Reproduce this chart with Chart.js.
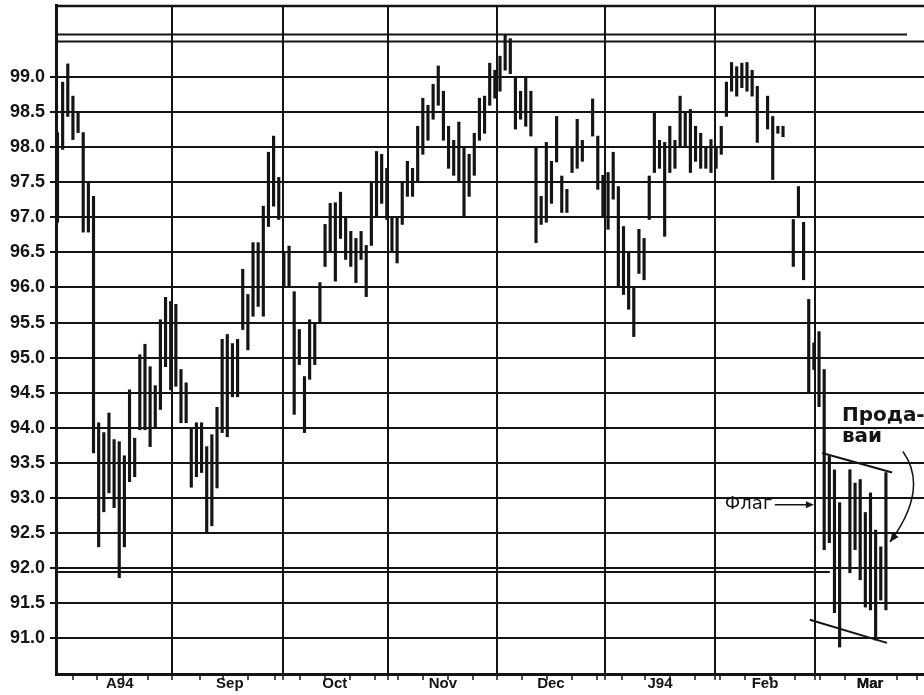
<!DOCTYPE html>
<html>
<head>
<meta charset="utf-8">
<script src="https://cdn.jsdelivr.net/npm/chart.js@4.4.1/dist/chart.umd.min.js"></script>
<style>
  html, body { margin: 0; padding: 0; background: #fff; }
</style>
</head>
<body>
<canvas id="chart" width="924" height="695"></canvas>
<script>
// daily highs / lows, one entry per trading day (null = no bar)
const highs = [
  98.21, 98.93, 99.19, 98.73, 98.50, 98.21, 97.50, 97.30, 94.07, 93.93, 94.21, 93.83, 93.80, 93.60, 94.54, 93.85, 95.04, 95.19, 94.87, 94.60, 95.54, 95.86,
  95.80, 95.76, 94.83, 94.64, 94.00, 94.07, 94.07, 93.73, 93.90, 94.29, 95.26, 95.33, 95.20, 95.26, 96.26, 95.90, 96.64, 96.64, 97.16, 97.93, 98.16, 97.57,
  96.50, 96.59, 95.94, 95.40, 94.73, 95.54, 95.50, 96.07, 96.90, 97.20, 97.21, 97.36, 97.00, 96.80, 96.70, 96.80, 96.60, 97.50, 97.94, 97.90, 97.70,
  97.00, 97.00, 97.50, 97.80, 97.70, 98.30, 98.70, 98.60, 98.90, 99.16, 98.80, 98.30, 98.10, 98.36, 98.00, 97.90, 98.20, 98.70, 98.73, 99.20, 99.10, 99.30,
  99.60, 99.55, 99.01, 98.80, 99.00, 98.80, 98.00, 97.30, 98.07, 97.80, 98.44, 97.59, 97.40, 98.00, 98.40, 98.10, null, 98.69, 98.16, 97.60,
  97.64, 97.93, 97.44, 96.87, 96.50, 96.01, 96.83, 96.70, 97.59, 98.50, 98.10, 98.07, 98.30, 98.10, 98.73, 98.50, 98.54, 98.30, 98.20, 98.00, 98.11, 98.00,
  98.30, 98.93, 99.21, 99.15, 99.20, 99.21, 99.10, 98.87, null, 98.73, 98.44, 98.30, 98.30, null, 96.97, 97.44, 96.93, 95.83, 95.21,
  95.37, 94.83, 93.59, 93.40, 92.93, null, 93.40, 93.21, 93.26, 92.79, 93.07, 92.54, 92.30, 93.36
];
const lows = [
  96.93, 97.97, 98.44, 98.11, 98.21, 96.79, 96.79, 93.64, 92.30, 92.80, 93.07, 92.86, 91.86, 92.30, 93.23, 93.30, 93.97, 93.97, 93.73, 94.00, 94.26, 94.87,
  94.54, 94.59, 94.07, 94.07, 93.15, 93.30, 93.36, 92.50, 92.60, 93.14, 93.93, 93.87, 94.44, 94.44, 95.40, 95.11, 95.59, 95.73, 95.59, 96.87, 97.16, 96.97,
  96.00, 96.00, 94.19, 94.90, 93.93, 94.69, 94.90, 95.50, 96.30, 96.50, 96.09, 96.70, 96.40, 96.30, 96.07, 96.40, 95.87, 96.60, 97.00, 97.20, 96.97,
  96.50, 96.35, 96.90, 97.30, 97.30, 97.50, 97.90, 98.10, 98.40, 98.60, 98.10, 97.70, 97.60, 97.50, 97.00, 97.30, 97.60, 98.10, 98.20, 98.60, 98.70, 98.80,
  99.10, 99.05, 98.26, 98.40, 98.30, 98.16, 96.64, 96.90, 96.93, 97.20, 97.79, 97.07, 97.07, 97.64, 97.70, 97.80, null, 98.16, 97.40, 97.01,
  96.83, 97.26, 96.01, 95.90, 95.69, 95.30, 96.20, 96.11, 96.97, 97.64, 97.70, 96.73, 97.64, 97.70, 98.01, 98.00, 97.64, 97.80, 97.70, 97.70, 97.64, 97.70,
  97.90, 98.44, 98.80, 98.73, 98.85, 98.80, 98.73, 98.07, null, 98.26, 97.54, 98.20, 98.15, null, 96.30, 97.01, 96.11, 94.50, 94.83,
  94.30, 92.26, 92.36, 91.36, 90.87, null, 91.93, 92.26, 91.83, 91.44, 91.40, 90.97, 91.54, 91.40
];

// x axis: month names, their centres and boundaries, weekly tick marks (in trading days)
const monthLabels = ['A94', 'Sep', 'Oct', 'Nov', 'Dec', 'J94', 'Feb', 'Mar'];
const monthCenters = [12.1, 33.5, 53.9, 74.9, 95.9, 117.1, 137.5, 157.9];
const monthBounds = [22.25, 43.8, 64.2, 85.4, 106.4, 127.8, 147.2];
const weekTicks = [3.0, 7.7, 12.7, 17.6, 27.7, 32.2, 37.0, 42.3, 47.1, 52.0, 56.8, 61.7, 66.2, 71.0, 75.9, 80.7,
  90.3, 95.1, 100.0, 104.8, 109.7, 114.2, 119.0, 123.9, 128.7, 133.6, 138.4, 143.3, 148.2, 153.0, 157.9, 163.1, 167.0];
const xMin = -0.29, xMax = 168.4;

// y axis
const yTicks = [91.0, 91.5, 92.0, 92.5, 93.0, 93.5, 94.0, 94.5, 95.0, 95.5, 96.0, 96.5, 97.0, 97.5, 98.0, 98.5, 99.0];
const yMin = 90.486, yMax = 100.03;

// drawn lines: [start day, end day, level] and flag trendlines
const topLine1 = [xMin, 165.1, 99.61];
const topLine2 = [xMin, xMax, 99.51];
const supportLine = [xMin, 150.1, 91.94];
const flagTop = [[148.6, 93.64], [162.2, 93.36]];
const flagBottom = [[146.2, 91.26], [161.2, 90.93]];

// notes (day, price)
const flagNote = { text: 'Флаг', x: 129.7, y: 92.84, arrowFrom: 139.4, arrowTo: 147.0, arrowY: 92.90 };
const sellNote = { lines: ['Прода-', 'вай'], x: 152.45, y: [94.09, 93.79],
  curve: [[164.3, 93.66], [169.45, 93.13], [161.8, 92.37]] };

const INK = '#141414';

const bars = [];
highs.forEach((h, i) => {
  if (h !== null) bars.push({ x: i, y: [lows[i], h] });
});

function hLine(seg) {
  return {
    type: 'line',
    data: [{ x: seg[0], y: seg[2] }, { x: seg[1], y: seg[2] }],
    borderColor: INK, borderWidth: 2, pointRadius: 0, fill: false
  };
}
function pLine(pts) {
  return {
    type: 'line',
    data: pts.map(p => ({ x: p[0], y: p[1] })),
    borderColor: INK, borderWidth: 2, pointRadius: 0, fill: false
  };
}

function arrowHead(ctx, x, y, ang, len, wid) {
  ctx.beginPath();
  ctx.moveTo(x, y);
  ctx.lineTo(x - len * Math.cos(ang) + wid * Math.sin(ang), y - len * Math.sin(ang) - wid * Math.cos(ang));
  ctx.lineTo(x - len * Math.cos(ang) - wid * Math.sin(ang), y - len * Math.sin(ang) + wid * Math.cos(ang));
  ctx.closePath();
  ctx.fill();
}

// frame top + text notes
const notesPlugin = {
  id: 'notes',
  afterDraw(chart) {
    const ctx = chart.ctx;
    const xs = chart.scales.x, ys = chart.scales.y;
    const area = chart.chartArea;
    ctx.save();
    ctx.strokeStyle = INK;
    ctx.fillStyle = INK;
    ctx.lineWidth = 2.5;
    ctx.beginPath();
    ctx.moveTo(area.left, area.top + 1);
    ctx.lineTo(area.right, area.top + 1);
    ctx.stroke();

    // Флаг + arrow
    ctx.font = '18px "DejaVu Sans"';
    ctx.textBaseline = 'alphabetic';
    ctx.textAlign = 'left';
    ctx.fillText(flagNote.text, xs.getPixelForValue(flagNote.x), ys.getPixelForValue(flagNote.y));
    const ay = ys.getPixelForValue(flagNote.arrowY);
    const ax0 = xs.getPixelForValue(flagNote.arrowFrom), ax1 = xs.getPixelForValue(flagNote.arrowTo);
    ctx.lineWidth = 1.5;
    ctx.beginPath();
    ctx.moveTo(ax0, ay);
    ctx.lineTo(ax1 - 4, ay);
    ctx.stroke();
    arrowHead(ctx, ax1, ay, 0, 8, 3.5);

    // Продавай + curved arrow
    ctx.font = 'bold 20px "DejaVu Sans"';
    sellNote.lines.forEach((t, k) => {
      ctx.fillText(t, xs.getPixelForValue(sellNote.x), ys.getPixelForValue(sellNote.y[k]));
    });
    const c = sellNote.curve.map(p => [xs.getPixelForValue(p[0]), ys.getPixelForValue(p[1])]);
    ctx.lineWidth = 1.5;
    ctx.beginPath();
    ctx.moveTo(c[0][0], c[0][1]);
    ctx.quadraticCurveTo(c[1][0], c[1][1], c[2][0], c[2][1]);
    ctx.stroke();
    arrowHead(ctx, c[2][0], c[2][1], Math.atan2(c[2][1] - c[1][1], c[2][0] - c[1][0]), 9, 4);
    ctx.restore();
  }
};

const allXTicks = [...weekTicks, ...monthBounds, ...monthCenters].sort((a, b) => a - b);

new Chart(document.getElementById('chart'), {
  type: 'bar',
  data: {
    datasets: [
      {
        type: 'bar',
        data: bars,
        backgroundColor: INK,
        borderWidth: 0,
        barThickness: 2.5
      },
      hLine(topLine1),
      hLine(topLine2),
      hLine(supportLine),
      pLine(flagTop),
      pLine(flagBottom)
    ]
  },
  options: {
    responsive: false,
    animation: false,
    layout: { padding: { top: 5, left: 0, right: 0, bottom: 0 } },
    plugins: { legend: { display: false }, tooltip: { enabled: false } },
    scales: {
      x: {
        type: 'linear',
        min: xMin,
        max: xMax,
        offset: false,
        afterBuildTicks: s => { s.ticks = allXTicks.map(v => ({ value: v })); },
        afterFit: s => { s.height = 21; s.paddingLeft = 0; s.paddingRight = 0; },
        ticks: {
          autoSkip: false,
          maxRotation: 0,
          minRotation: 0,
          padding: -4,
          color: INK,
          font: { family: 'Liberation Sans', weight: 'bold', size: 15, lineHeight: 1 },
          callback: v => {
            const k = monthCenters.indexOf(v);
            return k >= 0 ? monthLabels[k] : '';
          }
        },
        grid: {
          offset: false,
          lineWidth: 2,
          tickLength: 6,
          tickWidth: 1.5,
          color: c => monthBounds.includes(c.tick.value) ? INK : 'rgba(0,0,0,0)',
          tickColor: c => monthCenters.includes(c.tick.value) ? 'rgba(0,0,0,0)' : INK
        },
        border: { color: INK, width: 3 }
      },
      y: {
        min: yMin,
        max: yMax,
        beginAtZero: false,
        afterBuildTicks: s => { s.ticks = yTicks.map(v => ({ value: v })); },
        afterFit: s => { s.width = 56; s.paddingTop = 0; s.paddingBottom = 0; },
        ticks: {
          padding: 5,
          color: INK,
          font: { family: 'Liberation Sans', weight: 'bold', size: 18 },
          callback: v => v.toFixed(1)
        },
        grid: { color: INK, lineWidth: 2, tickLength: 6 },
        border: { color: INK, width: 3 }
      }
    }
  },
  plugins: [notesPlugin]
});
</script>
</body>
</html>
